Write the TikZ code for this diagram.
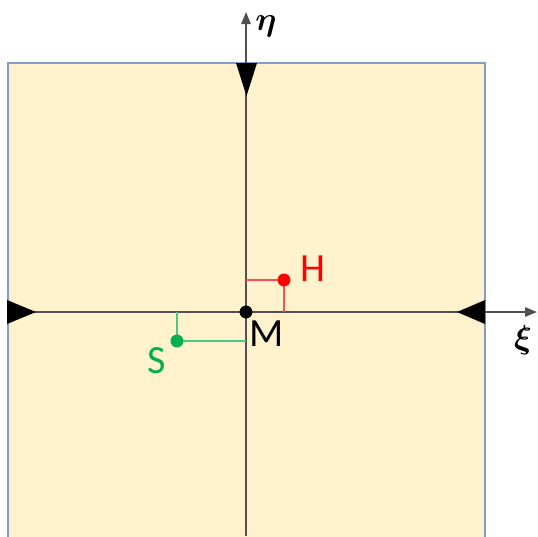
\documentclass[tikz,border=0pt]{standalone}
\usepackage{amsmath}
\usepackage{bm}
\usepackage{fontspec}
\setmainfont{Carlito}
\usetikzlibrary{arrows.meta}
\definecolor{fillY}{HTML}{FFF2CC}
\definecolor{borderB}{HTML}{7F9FC8}
\definecolor{axisC}{HTML}{505050}
\definecolor{ptRed}{HTML}{FF0000}
\definecolor{ptGreen}{HTML}{00B050}
\tikzset{
  axisline/.style={draw=axisC, line width=1.4pt},
  bigtri/.style={fill=black, draw=none},
  pt/.style={circle, inner sep=0pt, minimum size=9.5pt},
  lbl/.style={font=\fontsize{30}{34}\selectfont, inner sep=0pt},
  glbl/.style={font=\fontsize{33}{36}\selectfont, inner sep=0pt},
  guideR/.style={draw=ptRed!70, line width=0.9pt},
  guideG/.style={draw=ptGreen!70, line width=0.9pt}
}
\begin{document}
\begin{tikzpicture}[x=0.75pt,y=-0.75pt]
\useasboundingbox (0,0) rectangle (538,536);
\begin{scope}
\clip (0,0) rectangle (538,536);
\fill[fillY] (8,63) rectangle (485,545);
\draw[borderB, line width=2pt] (8,545) -- (8,63) -- (485,63) -- (485,545);
\end{scope}
% axes
\coordinate (ybot) at (246,536);
\coordinate (ytop) at (246,12);
\coordinate (xleft) at (8,312);
\coordinate (xright) at (537,312);
\draw[axisline, -{Triangle[length=9pt,width=7pt]}] (ybot) -- (ytop);
\draw[axisline, -{Triangle[length=9pt,width=7pt]}] (xleft) -- (xright);
\node[glbl] (eta) at (266,26) {$\bm{\eta}$};
\node[glbl] (xi) at (523,340) {$\bm{\xi}$};
% big triangles
\fill[bigtri] (236,63) -- (257,63) -- (246.5,96) -- cycle;
\fill[bigtri] (7,300) -- (7,324) -- (36,312) -- cycle;
\fill[bigtri] (485,300) -- (485,324) -- (457,312) -- cycle;
% points
\node[pt, fill=black] (M) at (246,312) {};
\node[pt, fill=ptRed] (H) at (284,280) {};
\node[pt, fill=ptGreen] (S) at (177,341) {};
\coordinate (Hy) at (246,280);
\coordinate (Hx) at (284,312);
\coordinate (Sy) at (246,341);
\coordinate (Sx) at (177,312);
\draw[guideR] (Hy) -- (H.center) -- (Hx);
\draw[guideG] (Sx) -- (S.center) -- (Sy);
\node[pt, fill=ptRed] at (H) {};
\node[pt, fill=ptGreen] at (S) {};
\node[pt, fill=black] at (M) {};
\node[lbl] (Ml) at (267,334) {M};
\node[lbl, text=ptRed] (Hl) at (313,269) {H};
\node[lbl, text=ptGreen] (Sl) at (157,361) {S};
\end{tikzpicture}
\end{document}
